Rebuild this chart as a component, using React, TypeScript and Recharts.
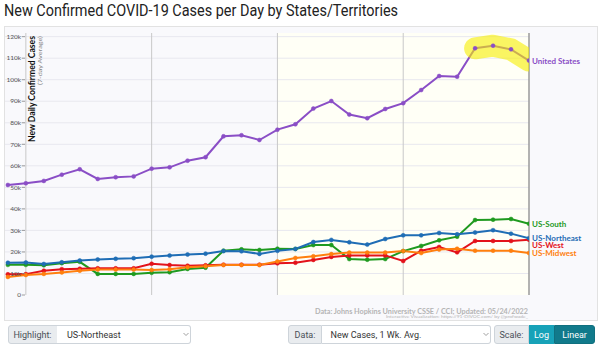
import {
  ComposedChart,
  Line,
  XAxis,
  YAxis,
  ReferenceArea,
  ReferenceLine,
} from "recharts";

// one point per day, Apr 24 .. May 23 (7-day averages)
const dates = [
  "Apr 24", "Apr 25", "Apr 26", "Apr 27", "Apr 28", "Apr 29", "Apr 30",
  "May 1", "May 2", "May 3", "May 4", "May 5", "May 6", "May 7", "May 8",
  "May 9", "May 10", "May 11", "May 12", "May 13", "May 14", "May 15",
  "May 16", "May 17", "May 18", "May 19", "May 20", "May 21", "May 22", "May 23",
];

const unitedStates = [
  51100, 51900, 53000, 55900, 58400, 53900, 54700, 55100, 58700, 59300,
  62400, 64000, 73700, 74200, 72000, 76800, 79300, 86600, 90100, 83800,
  82100, 86400, 89100, 95200, 101700, 101400, 114600, 115800, 114100, 108900,
];
const usSouth = [
  14000, 14000, 13800, 14800, 15400, 9800, 9800, 9800, 10300, 10600,
  12100, 12700, 20600, 21200, 20900, 21500, 21400, 23200, 23200, 16700,
  16400, 16700, 20400, 22800, 25400, 27100, 34800, 35000, 35300, 33100,
];
const usNortheast = [
  15000, 15100, 14400, 15200, 16000, 16500, 16800, 17100, 17800, 18300,
  18800, 19200, 20400, 20300, 19100, 20500, 21400, 24600, 25600, 24500,
  23400, 26000, 27700, 27700, 28800, 28200, 29000, 30100, 28500, 26400,
];
const usWest = [
  9600, 9700, 11300, 12000, 12200, 12400, 12400, 12400, 14500, 13900,
  13600, 13800, 14100, 14100, 14100, 14700, 15000, 16300, 17700, 18400,
  18400, 18400, 15800, 20600, 22300, 19800, 25100, 25100, 25100, 25700,
];
const usMidwest = [
  8400, 9300, 9800, 10500, 11300, 11800, 11800, 11800, 11600, 12000,
  12900, 13400, 13900, 13900, 13900, 15600, 17200, 18000, 19000, 19700,
  19700, 19700, 20400, 19500, 21100, 21500, 20600, 20600, 20600, 19500,
];
// days marked in yellow on the United States line
const highlightDates = ["May 20", "May 21", "May 22", "May 23"];

const xTicks = [0, 7, 14, 21, 28];
const xTickLabels = ["Apr 25", "May 2", "May 9", "May 16", "May 23"];
const yTicks = [0, 10000, 20000, 30000, 40000, 50000, 60000, 70000, 80000, 90000, 100000, 110000, 120000];

const data = dates.map((date, i) => ({
  day: i - 1,
  date,
  us: unitedStates[i],
  south: usSouth[i],
  northeast: usNortheast[i],
  west: usWest[i],
  midwest: usMidwest[i],
  hl: highlightDates.includes(date) ? unitedStates[i] : null,
}));

const series = [
  { key: "us", name: "United States", color: "#8a4ec6", dy: 0 },
  { key: "south", name: "US-South", color: "#1f9a1f", dy: 0 },
  { key: "west", name: "US-West", color: "#e3121b", dy: 5 },
  { key: "midwest", name: "US-Midwest", color: "#ff7f0e", dy: 0 },
  { key: "northeast", name: "US-Northeast", color: "#1f6db5", dy: 0 },
];

const fmtK = (v: number) => (v === 0 ? "0" : `${v / 1000}k`);

const YTick = (props: any) => {
  const { y, payload } = props;
  return (
    <g>
      <text x={21} y={y} dy={2.2} textAnchor="end" fontSize={6.5} fill="#555" fontFamily="Lato">
        {fmtK(payload.value)}
      </text>
      <line x1={21.8} x2={25} y1={y} y2={y} stroke="#888" strokeWidth={0.8} />
    </g>
  );
};

const XTick = (props: any) => {
  const { x, y, payload } = props;
  const label = xTickLabels[xTicks.indexOf(payload.value)];
  return (
    <text x={x - 2} y={y - 1} textAnchor="end" fontSize={6.5} fill="#999" fontFamily="Lato">
      {label}
    </text>
  );
};

const endLabel = (name: string, color: string, dy: number) => (props: any) => {
  const { x, y, index } = props;
  if (index !== dates.length - 1) return <g />;
  return (
    <text x={x + 3} y={y + dy} dy={3} fontSize={8} fontWeight={700} fill={color} fontFamily="Lato">
      {name}
    </text>
  );
};

const ctl = {
  position: "absolute" as const,
  top: 325,
  height: 19,
  boxSizing: "border-box" as const,
  border: "1px solid #ced4da",
  fontFamily: "Roboto",
  fontSize: 9,
  display: "flex",
  alignItems: "center",
};

const Chevron = ({ left }: { left: number }) => (
  <svg style={{ position: "absolute", left, top: 332 }} width={6} height={5}>
    <path d="M0.5 1 L3 3.5 L5.5 1" fill="none" stroke="#888" strokeWidth={0.8} />
  </svg>
);

export default function App() {
  return (
    <div style={{ position: "fixed", left: 0, top: 0, width: 600, height: 346, background: "#fff", overflow: "hidden" }}>
      <div
        style={{
          position: "absolute",
          left: 4,
          top: 26,
          width: 594,
          height: 295,
          boxSizing: "border-box",
          border: "1px solid #e2e2e2",
          background: "#f9f9fc",
        }}
      />
      <div style={{ position: "absolute", left: 0, top: 0 }}>
        <ComposedChart
          width={600}
          height={346}
          data={data}
          margin={{ top: 33, right: 71, bottom: 51, left: 4 }}
        >
          <ReferenceArea x1={14} x2={28} fill="#fffff6" fillOpacity={1} stroke="none" />
          {yTicks.slice(1).map((t) => (
            <ReferenceLine key={`h${t}`} y={t} stroke="#e8e8ef" strokeWidth={1} />
          ))}
          <XAxis
            dataKey="day"
            type="number"
            domain={[-1.16, 28]}
            allowDataOverflow
            ticks={xTicks}
            interval={0}
            height={0}
            axisLine={false}
            tickSize={7}
            tickMargin={0}
            tickLine={{ stroke: "#c8c8c8" }}
            tick={<XTick />}
          />
          <YAxis
            type="number"
            domain={[0, 121700]}
            allowDataOverflow
            ticks={yTicks}
            interval={0}
            width={1}
            axisLine={false}
            tickLine={false}
            tick={<YTick />}
          />
          {xTicks.slice(0, 4).map((t) => (
            <ReferenceLine key={t} x={t} stroke="#c8c8c8" strokeWidth={1} />
          ))}
          <ReferenceLine x={28} stroke="#9a9a9a" strokeWidth={1.5} />
          {series.map((s) => (
            <Line
              key={s.key}
              type="linear"
              dataKey={s.key}
              stroke={s.color}
              strokeWidth={2}
              dot={{ r: 2, fill: s.color, stroke: s.color, strokeWidth: 0.5 }}
              activeDot={false}
              isAnimationActive={false}
              label={endLabel(s.name, s.color, s.dy)}
            />
          ))}
          <Line
            type="linear"
            dataKey="hl"
            stroke="#f7ef00"
            strokeOpacity={0.6}
            strokeWidth={22}
            strokeLinecap="round"
            strokeLinejoin="round"
            dot={false}
            activeDot={false}
            connectNulls={false}
            isAnimationActive={false}
          />
        </ComposedChart>
      </div>
      <svg style={{ position: "absolute", left: 0, top: 0, pointerEvents: "none" }} width={600} height={346}>
        <text x={4} y={16} fontSize={17} fontFamily="Roboto" fill="#222" textLength={394} lengthAdjust="spacingAndGlyphs">
          New Confirmed COVID-19 Cases per Day by States/Territories
        </text>
        <text
          transform="translate(35,36) rotate(-90)"
          textAnchor="end"
          fontSize={9}
          fontWeight={700}
          fontFamily="Lato"
          fill="#111"
          textLength={106}
          lengthAdjust="spacingAndGlyphs"
        >
          New Daily Confirmed Cases
        </text>
        <text
          transform="translate(41.5,36) rotate(-90)"
          textAnchor="end"
          fontSize={6.5}
          fontFamily="Lato"
          fill="#888"
          textLength={49}
          lengthAdjust="spacingAndGlyphs"
        >
          (7-day Average)
        </text>
        <text x={315} y={313.5} fontSize={6.5} fontWeight={700} fontFamily="Lato" fill="#b4b4b4" textLength={213} lengthAdjust="spacingAndGlyphs">
          Data: Johns Hopkins University CSSE / CCI; Updated: 05/24/2022
        </text>
        <text x={386} y={318} fontSize={4} fontFamily="Lato" fill="#b4b4b4" textLength={142} lengthAdjust="spacingAndGlyphs">
          Interactive Visualization: https://91-DIVOC.com/ by @profwade_
        </text>
      </svg>

      {/* controls row */}
      <div style={{ ...ctl, left: 7.5, width: 50, background: "#e9ecef", color: "#495057", justifyContent: "center", borderRadius: "3px 0 0 3px" }}>
        Highlight:
      </div>
      <div style={{ ...ctl, left: 57, width: 134, background: "#fff", color: "#333", paddingLeft: 10, borderLeft: "none", borderRadius: "0 3px 3px 0" }}>
        US-Northeast
      </div>
      <Chevron left={183} />
      <div style={{ ...ctl, left: 288, width: 34, background: "#e9ecef", color: "#495057", justifyContent: "center", borderRadius: "3px 0 0 3px" }}>
        Data:
      </div>
      <div style={{ ...ctl, left: 321.5, width: 169, background: "#fff", color: "#333", paddingLeft: 9, borderLeft: "none", borderRadius: "0 3px 3px 0" }}>
        New Cases, 1 Wk. Avg.
      </div>
      <Chevron left={483} />
      <div style={{ ...ctl, left: 494, width: 35, background: "#e9ecef", color: "#495057", justifyContent: "center", borderRadius: "3px 0 0 3px" }}>
        Scale:
      </div>
      <div style={{ ...ctl, left: 529, width: 25, background: "#17a2b8", color: "#fff", justifyContent: "center", border: "1px solid #17a2b8" }}>
        Log
      </div>
      <div style={{ ...ctl, left: 554, width: 41, background: "#117a8b", color: "#fff", justifyContent: "center", border: "1px solid #10707f", borderRadius: "0 3px 3px 0" }}>
        Linear
      </div>
    </div>
  );
}
